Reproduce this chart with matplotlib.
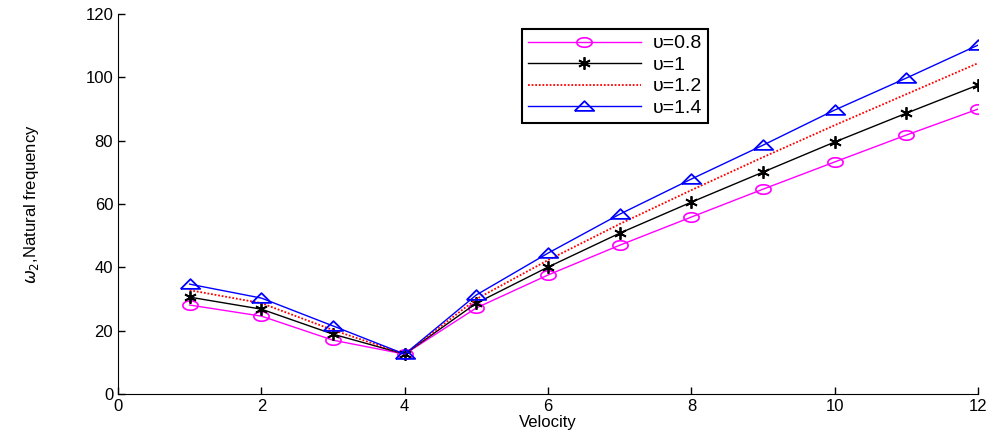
import matplotlib.pyplot as plt
import numpy as np

plt.rcParams['font.family'] = ['Liberation Sans', 'DejaVu Sans']

velocity = [1, 2, 3, 4, 5, 6, 7, 8, 9, 10, 11, 12]
w_08 = [28.1, 24.6, 17.0, 12.6, 27.2, 37.6, 47.0, 55.9, 64.7, 73.3, 81.8, 90.0]
w_10 = [30.6, 26.8, 18.9, 12.6, 28.7, 40.1, 50.8, 60.6, 70.1, 79.6, 88.7, 97.6]
w_12 = [32.8, 28.7, 20.2, 12.6, 30.0, 42.3, 53.7, 64.4, 74.8, 84.9, 94.7, 104.5]
w_14 = [34.7, 30.3, 21.5, 12.6, 31.3, 44.5, 56.8, 67.9, 78.6, 89.7, 99.8, 110.2]
labels = ['\u03c5=0.8', '\u03c5=1', '\u03c5=1.2', '\u03c5=1.4']

# flattened marker shapes like the matlab export
t = np.linspace(0, 2 * np.pi, 40)
ellipse = list(zip(1.0 * np.cos(t), 0.62 * np.sin(t)))
flat_tri = [(-1, -0.45), (1, -0.45), (0, 0.55), (-1, -0.45)]

fig = plt.figure(figsize=(9.96, 4.4), dpi=100)
ax = fig.add_axes([0.1185, 0.1045, 0.8635, 0.8635])

ax.plot(velocity, w_08, color='#ff00ff', lw=1, marker=ellipse, ms=11, mfc='none', mew=1.2, label=labels[0])
ax.plot(velocity, w_10, color='k', lw=1, marker=(6, 2, 0), ms=9, mew=1.3, label=labels[1])
ax.plot(velocity, w_12, color='red', lw=1.3, ls=(0, (1, 1)), label=labels[2])
ax.plot(velocity, w_14, color='#0000ff', lw=1, marker=flat_tri, ms=14, mfc='none', mew=1.3, label=labels[3])

ax.set_xlim(0, 12)
ax.set_ylim(0, 120)
ax.set_xticks(np.arange(0, 13, 2))
ax.set_yticks(np.arange(0, 121, 20))
ax.tick_params(direction='in', labelsize=12, length=5, width=1)
ax.spines['top'].set_visible(False)
ax.spines['right'].set_visible(False)
ax.set_xlabel('Velocity', fontsize=12, labelpad=1)
ax.set_ylabel(r'$\omega_2$,Natural frequency', fontsize=12, labelpad=32,
              family=['Liberation Sans Narrow', 'Liberation Sans', 'DejaVu Sans'])

leg = ax.legend(loc='upper left', bbox_to_anchor=(0.47, 0.961), fontsize=14,
                fancybox=False, edgecolor='k', framealpha=1, handlelength=5.8,
                borderpad=0.3, labelspacing=0.2, borderaxespad=0, handletextpad=0.6)
leg.get_frame().set_linewidth(1.5)

plt.savefig('out.png')
